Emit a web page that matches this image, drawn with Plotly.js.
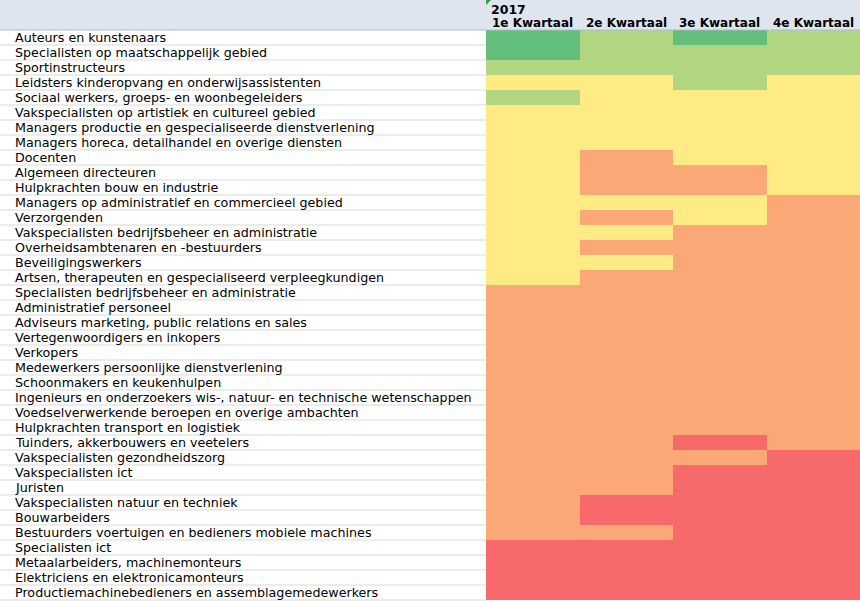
<!DOCTYPE html>
<html>
<head>
<meta charset="utf-8">
<script src="https://cdn.plot.ly/plotly-3.0.1.min.js"></script>
<style>html,body{margin:0;padding:0;background:#fff;}#chart{width:860px;height:601px;}</style>
</head>
<body>
<div id="chart"></div>
<script>
const yearLabel = "2017";
const quarters = ["1e Kwartaal", "2e Kwartaal", "3e Kwartaal", "4e Kwartaal"];
const occupations = [
  "Auteurs en kunstenaars",
  "Specialisten op maatschappelijk gebied",
  "Sportinstructeurs",
  "Leidsters kinderopvang en onderwijsassistenten",
  "Sociaal werkers, groeps- en woonbegeleiders",
  "Vakspecialisten op artistiek en cultureel gebied",
  "Managers productie en gespecialiseerde dienstverlening",
  "Managers horeca, detailhandel en overige diensten",
  "Docenten",
  "Algemeen directeuren",
  "Hulpkrachten bouw en industrie",
  "Managers op administratief en commercieel gebied",
  "Verzorgenden",
  "Vakspecialisten bedrijfsbeheer en administratie",
  "Overheidsambtenaren en -bestuurders",
  "Beveiligingswerkers",
  "Artsen, therapeuten en gespecialiseerd verpleegkundigen",
  "Specialisten bedrijfsbeheer en administratie",
  "Administratief personeel",
  "Adviseurs marketing, public relations en sales",
  "Vertegenwoordigers en inkopers",
  "Verkopers",
  "Medewerkers persoonlijke dienstverlening",
  "Schoonmakers en keukenhulpen",
  "Ingenieurs en onderzoekers wis-, natuur- en technische wetenschappen",
  "Voedselverwerkende beroepen en overige ambachten",
  "Hulpkrachten transport en logistiek",
  "Tuinders, akkerbouwers en veetelers",
  "Vakspecialisten gezondheidszorg",
  "Vakspecialisten ict",
  "Juristen",
  "Vakspecialisten natuur en techniek",
  "Bouwarbeiders",
  "Bestuurders voertuigen en bedieners mobiele machines",
  "Specialisten ict",
  "Metaalarbeiders, machinemonteurs",
  "Elektriciens en elektronicamonteurs",
  "Productiemachinebedieners en assemblagemedewerkers"
];
// level per quarter (1 = dark green ... 5 = red)
const q1 = [1,1,2,3,2,3,3,3,3,3,3,3,3,3,3,3,3,4,4,4,4,4,4,4,4,4,4,4,4,4,4,4,4,4,5,5,5,5];
const q2 = [2,2,2,3,3,3,3,3,4,4,4,3,4,3,4,3,4,4,4,4,4,4,4,4,4,4,4,4,4,4,4,5,5,4,5,5,5,5];
const q3 = [1,2,2,2,3,3,3,3,3,4,4,3,3,4,4,4,4,4,4,4,4,4,4,4,4,4,4,5,4,5,5,5,5,5,5,5,5,5];
const q4 = [2,2,2,3,3,3,3,3,3,3,3,4,4,4,4,4,4,4,4,4,4,4,4,4,4,4,4,4,5,5,5,5,5,5,5,5,5,5];
const levelColors = ["#63BE7B", "#B1D580", "#FFEB84", "#FAA875", "#F8696B"];

const W = 860, H = 601;
const headerH = 30, rowH = 15, labelW = 486;
const n = occupations.length;
const z = occupations.map((_, i) => [q1[i], q2[i], q3[i], q4[i]]);
const yIdx = occupations.map((_, i) => i);
const xIdx = quarters.map((_, j) => j);

const gridTop = H - headerH;
const gridBottom = H - headerH - n * rowH;
const ydom = [gridBottom / H, gridTop / H];

const colorscale = levelColors.map((c, k) => [k / (levelColors.length - 1), c]);

const trace = {
  type: "heatmap",
  x: xIdx, y: yIdx, z: z,
  zmin: 1, zmax: 5,
  colorscale: colorscale,
  showscale: false,
  xgap: 0, ygap: 0,
  hoverinfo: "skip"
};

const shapes = [];
const annotations = [];
shapes.push({type: "rect", xref: "paper", yref: "paper", x0: 0, x1: 1, y0: gridTop / H, y1: 1,
  fillcolor: "#DFE5EE", line: {width: 0}, layer: "below"});
shapes.push({type: "line", xref: "paper", yref: "paper", x0: 0, x1: 1, y0: gridTop / H, y1: gridTop / H,
  line: {color: "#A9BCD3", width: 1}});
for (let i = 1; i <= n; i++) {
  const yp = (gridTop - i * rowH) / H;
  shapes.push({type: "line", xref: "paper", yref: "paper", x0: 0, x1: labelW / W, y0: yp, y1: yp,
    line: {color: "#D9D9D9", width: 1}, layer: "below"});
}
shapes.push({type: "path", xref: "paper", yref: "paper",
  path: `M ${labelW / W} 1 L ${(labelW + 5) / W} 1 L ${labelW / W} ${(H - 5) / H} Z`,
  fillcolor: "#2E9E3E", line: {width: 0}});

occupations.forEach((lab, i) => {
  annotations.push({xref: "paper", yref: "y", x: 13 / W, y: i, text: lab, showarrow: false,
    xanchor: "left", yanchor: "middle", font: {family: "DejaVu Sans, Verdana", size: 12.7, color: "#000"}});
});
annotations.push({xref: "paper", yref: "paper", x: (labelW + 3) / W, y: (H - 10) / H, text: "<b>" + yearLabel + "</b>",
  showarrow: false, xanchor: "left", yanchor: "middle", font: {family: "DejaVu Sans, Verdana", size: 12.5, color: "#000"}});
quarters.forEach((q, j) => {
  annotations.push({xref: "x", yref: "paper", x: j, y: (H - 23) / H, text: "<b>" + q + "</b>",
    showarrow: false, xanchor: "center", yanchor: "middle", font: {family: "DejaVu Sans, Verdana", size: 12, color: "#000"}});
});

const layout = {
  width: W, height: H,
  margin: {l: 0, r: 0, t: 0, b: 0},
  paper_bgcolor: "#fff", plot_bgcolor: "#fff",
  showlegend: false,
  xaxis: {domain: [labelW / W, 1], range: [-0.5, 3.5], showgrid: false, zeroline: false, showticklabels: false, ticks: "", fixedrange: true},
  yaxis: {domain: ydom, range: [n - 0.5, -0.5], showgrid: false, zeroline: false, showticklabels: false, ticks: "", fixedrange: true},
  shapes: shapes,
  annotations: annotations
};

Plotly.newPlot("chart", [trace], layout, {displayModeBar: false, staticPlot: true});
</script>
</body>
</html>
